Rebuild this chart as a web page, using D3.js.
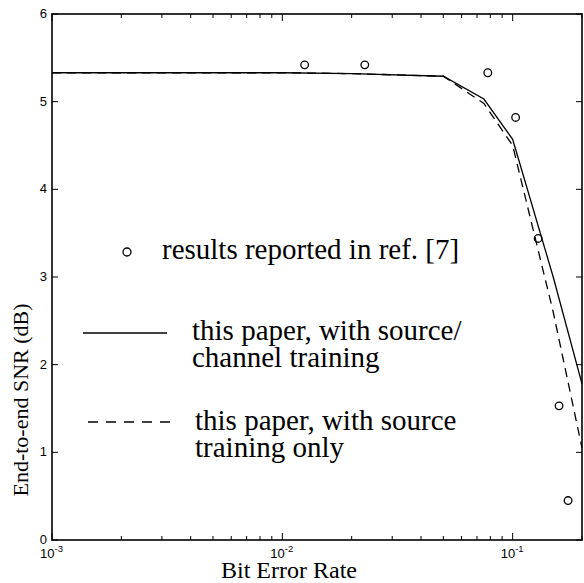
<!DOCTYPE html>
<html>
<head>
<meta charset="utf-8">
<script src="https://cdn.jsdelivr.net/npm/d3@7"></script>
<style>
  body { margin: 0; background: #fff; }
  svg { display: block; }
</style>
</head>
<body>
<svg id="viz" width="584" height="583"></svg>
<script>
// bit error rates where the two training curves were computed
var berGrid = [0.001, 0.002, 0.005, 0.01, 0.02, 0.05, 0.075, 0.1, 0.15, 0.2]
var snrSourceChannel = [5.33, 5.33, 5.33, 5.33, 5.32, 5.29, 5.03, 4.57, 3.0, 1.78]
var snrSourceOnly    = [5.33, 5.33, 5.33, 5.33, 5.32, 5.29, 4.98, 4.50, 2.6, 1.05]

// results reported in ref. [7]
var refBer = [0.0125, 0.0228, 0.078, 0.103, 0.129, 0.159, 0.174]
var refSnr = [5.42, 5.42, 5.33, 4.82, 3.44, 1.53, 0.45]

var xMajor = [1e-3, 1e-2, 1e-1]
var xMajorExp = ["-3", "-2", "-1"]
var yTicks = [0, 1, 2, 3, 4, 5, 6]

// plot box (window.top is read-only, so no "top" here)
var plotL = 52, plotR = 582, plotT = 14, plotB = 540
var serif = "'Liberation Serif', 'Times New Roman', serif"
var sans = "'Liberation Sans', Arial, sans-serif"

let viz = d3.select("#viz")

let x = d3.scaleLog().domain([1e-3, 0.2]).range([plotL, plotR])
let y = d3.scaleLinear().domain([0, 6]).range([plotB, plotT])

// minor ticks 2..9 per decade
let minor = []
for (let d = 1e-3; d < 0.2; d *= 10)
    for (let k = 2; k <= 9; k++)
        if (k * d <= 0.2) minor.push(k * d)

let gAxes = viz.append("g").attr("id", "axes")

function tickLines(cls, data, x1, x2, y1, y2) {
    gAxes.selectAll("line." + cls).data(data).enter().append("line")
        .attr("class", cls)
        .attr("x1", x1).attr("x2", x2)
        .attr("y1", y1).attr("y2", y2)
        .style("stroke", "#000").style("stroke-width", 1)
}

// inward ticks, bottom and top
tickLines("xmin", minor, d => x(d), d => x(d), plotB, plotB - 4)
tickLines("xmint", minor, d => x(d), d => x(d), plotT, plotT + 4)
tickLines("xmaj", xMajor, d => x(d), d => x(d), plotB, plotB - 7)
tickLines("xmajt", xMajor, d => x(d), d => x(d), plotT, plotT + 7)
// y ticks left and right
tickLines("yl", yTicks, plotL, plotL + 6, d => y(d), d => y(d))
tickLines("yr", yTicks, plotR, plotR - 6, d => y(d), d => y(d))

gAxes.append("rect")
    .attr("x", plotL).attr("y", plotT)
    .attr("width", plotR - plotL).attr("height", plotB - plotT)
    .style("fill", "none").style("stroke", "#000").style("stroke-width", 1.6)

// tick labels
gAxes.selectAll("text.ylab").data(yTicks).enter().append("text")
    .attr("class", "ylab")
    .attr("x", plotL - 5).attr("y", d => y(d) + 4)
    .attr("text-anchor", "end")
    .style("font-family", sans).style("font-size", "13px")
    .text(d => d)

let xLab = gAxes.selectAll("text.xlab").data(xMajor).enter().append("text")
    .attr("class", "xlab")
    .attr("x", d => x(d) - 12).attr("y", plotB + 18)
    .style("font-family", sans).style("font-size", "13px")
xLab.append("tspan").text("10")
xLab.append("tspan").attr("dy", -6).style("font-size", "9.5px").text((d, i) => xMajorExp[i])

gAxes.append("text")
    .attr("x", 289).attr("y", 578)
    .attr("text-anchor", "middle")
    .style("font-family", serif).style("font-size", "24px")
    .text("Bit Error Rate")

gAxes.append("text")
    .attr("transform", "translate(28,400) rotate(-90)")
    .attr("text-anchor", "middle")
    .style("font-family", serif).style("font-size", "22px")
    .text("End-to-end SNR (dB)")

// curves
let line = d3.line()
    .x((d, i) => x(berGrid[i]))
    .y(d => y(d))

let gData = viz.append("g").attr("id", "data")
gData.append("path").datum(snrSourceChannel)
    .attr("d", line)
    .style("fill", "none").style("stroke", "#000").style("stroke-width", 1.3)
gData.append("path").datum(snrSourceOnly)
    .attr("d", line)
    .style("fill", "none").style("stroke", "#000").style("stroke-width", 1.3)
    .style("stroke-dasharray", "9,6")

gData.selectAll("circle").data(refBer).enter().append("circle")
    .attr("cx", d => x(d))
    .attr("cy", (d, i) => y(refSnr[i]))
    .attr("r", 3.8)
    .style("fill", "none").style("stroke", "#000").style("stroke-width", 1.3)

// legend written inside the plot
let legendFont = "29px"
let gLegend = viz.append("g").attr("id", "legend")
gLegend.append("circle")
    .attr("cx", 127).attr("cy", 252).attr("r", 4)
    .style("fill", "none").style("stroke", "#000").style("stroke-width", 1.3)
gLegend.append("text")
    .attr("x", 162).attr("y", 259)
    .style("font-family", serif).style("font-size", legendFont)
    .text("results reported in ref. [7]")

gLegend.append("line")
    .attr("x1", 83).attr("x2", 167).attr("y1", 333).attr("y2", 333)
    .style("stroke", "#000").style("stroke-width", 1.5)
let t1 = gLegend.append("text")
    .style("font-family", serif).style("font-size", legendFont)
t1.append("tspan").attr("x", 192).attr("y", 340).text("this paper, with source/")
t1.append("tspan").attr("x", 192).attr("y", 367).text("channel training")

gLegend.append("line")
    .attr("x1", 88).attr("x2", 170).attr("y1", 422).attr("y2", 422)
    .style("stroke", "#000").style("stroke-width", 1.5)
    .style("stroke-dasharray", "10,8")
let t2 = gLegend.append("text")
    .style("font-family", serif).style("font-size", legendFont)
t2.append("tspan").attr("x", 195).attr("y", 430).text("this paper, with source")
t2.append("tspan").attr("x", 195).attr("y", 457).text("training only")
</script>
</body>
</html>
